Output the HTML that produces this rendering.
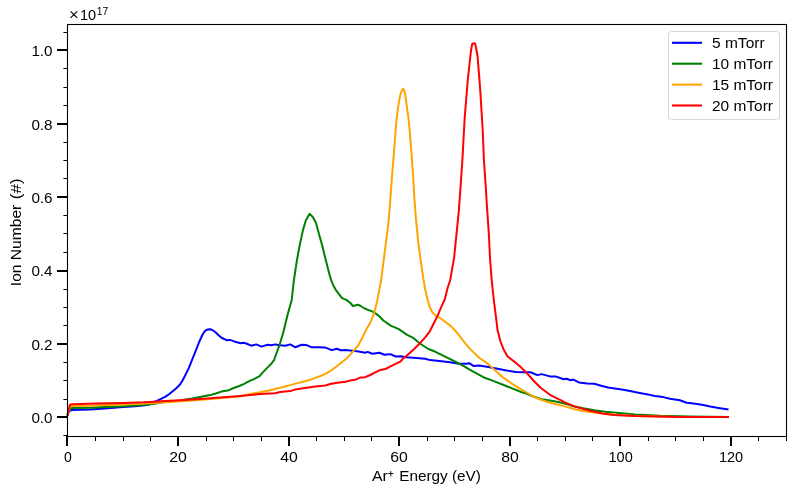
<!DOCTYPE html>
<html><head><meta charset="utf-8"><style>html,body{margin:0;padding:0;background:#fff;width:795px;height:493px;overflow:hidden} .t{font-family:"Liberation Sans",sans-serif}</style></head>
<body>
<svg width="795" height="493" viewBox="0 0 795 493" style="display:block;will-change:transform">
<rect width="795" height="493" fill="#fff"/>
<g fill="none" stroke-width="2.0" stroke-linejoin="round" stroke-linecap="butt">
<path d="M67.5 415.5 L68.5 412.5 L70.0 410.5 L72.0 410.1 L90.0 409.6 L105.0 408.5 L120.0 407.3 L135.0 406.2 L145.0 405.3 L150.0 404.3 L153.0 402.2 L156.9 400.9 L161.0 398.9 L165.5 396.6 L169.0 394.2 L172.4 391.4 L176.0 388.4 L179.3 385.3 L182.0 381.5 L184.5 376.7 L188.8 368.1 L192.2 359.5 L195.7 350.9 L199.1 342.2 L202.6 334.5 L204.5 331.6 L206.0 330.2 L207.8 329.5 L209.5 329.3 L211.5 329.6 L213.8 331.0 L215.8 332.5 L218.5 335.2 L221.3 337.6 L224.1 339.0 L226.8 340.2 L229.6 339.9 L232.4 340.6 L235.1 341.8 L237.9 342.5 L240.7 343.2 L243.4 342.8 L246.2 343.5 L251.3 345.7 L256.3 344.4 L261.4 346.6 L267.6 344.8 L271.4 345.3 L275.2 344.4 L280.2 345.3 L285.3 345.7 L290.3 344.4 L295.3 347.3 L301.6 344.8 L306.6 345.1 L311.7 347.3 L318.0 347.3 L325.5 347.6 L331.8 350.1 L336.8 348.8 L340.6 350.3 L345.7 350.1 L350.0 350.6 L355.1 351.1 L360.1 351.7 L365.2 352.7 L367.7 351.9 L372.3 353.7 L379.4 352.7 L384.4 354.7 L390.5 354.2 L395.6 356.5 L400.7 356.2 L406.0 357.2 L413.0 357.7 L425.2 358.7 L430.0 360.1 L439.1 361.0 L448.2 361.9 L457.4 363.4 L466.5 363.8 L469.2 363.2 L473.8 366.1 L479.3 365.6 L488.4 367.0 L497.5 368.7 L506.6 370.5 L515.8 372.0 L523.1 372.3 L530.5 372.3 L537.4 375.1 L541.6 374.1 L549.9 376.4 L555.4 376.4 L563.7 379.2 L566.5 378.8 L570.6 380.2 L573.4 379.6 L578.9 382.4 L587.2 383.4 L594.2 383.8 L601.1 385.7 L608.0 387.5 L614.9 388.6 L621.8 389.6 L628.7 390.7 L635.0 392.1 L638.3 392.7 L648.0 394.4 L654.9 396.0 L663.2 397.1 L670.1 398.8 L679.8 400.2 L686.7 402.7 L693.6 403.4 L701.9 404.7 L710.2 406.5 L718.5 407.9 L728.5 409.6" stroke="#0000ff"/>
<path d="M67.5 415.5 L68.5 411.5 L70.0 408.5 L72.0 408.0 L90.0 407.7 L105.0 406.9 L120.0 406.4 L143.5 405.1 L152.6 404.0 L165.0 402.0 L180.0 400.6 L192.1 398.6 L200.1 397.0 L210.2 395.1 L215.0 393.7 L221.5 391.6 L228.8 390.2 L233.7 388.0 L239.3 386.0 L244.2 383.9 L249.1 381.1 L253.9 379.1 L259.6 376.2 L262.8 372.4 L266.9 368.1 L271.8 363.2 L274.2 359.8 L275.5 356.0 L279.6 344.8 L283.6 331.2 L287.7 314.2 L291.7 300.0 L293.8 281.1 L296.8 260.9 L299.8 244.6 L302.9 230.4 L305.9 220.3 L309.6 213.8 L313.0 217.2 L316.1 223.3 L319.1 234.5 L322.2 245.6 L325.2 257.8 L328.2 269.5 L329.6 275.1 L331.2 280.1 L333.2 285.2 L335.7 289.8 L338.8 293.8 L341.8 297.9 L343.8 298.9 L346.4 299.9 L350.4 303.0 L353.0 306.0 L355.0 305.5 L358.0 304.7 L360.6 306.0 L364.6 308.5 L368.7 310.1 L372.7 311.6 L375.8 313.6 L379.8 316.7 L383.3 320.5 L390.7 325.6 L398.8 329.2 L407.1 334.8 L412.8 337.6 L419.9 343.5 L428.4 349.0 L435.5 351.8 L442.6 355.4 L449.7 358.9 L456.8 362.5 L463.9 366.1 L469.6 369.6 L475.6 372.9 L484.7 377.8 L493.9 381.1 L503.0 384.7 L512.1 388.4 L521.2 392.0 L525.0 393.0 L533.3 396.5 L541.6 399.3 L549.9 400.6 L558.2 402.0 L566.5 404.1 L574.8 406.5 L583.1 408.3 L594.2 410.3 L605.2 411.7 L616.3 412.8 L627.4 413.8 L635.0 414.4 L660.0 415.8 L690.0 416.6 L729.0 417.0" stroke="#008000"/>
<path d="M67.5 415.5 L68.5 411.0 L70.0 406.6 L72.0 406.1 L90.0 405.7 L105.0 405.0 L120.0 404.7 L143.5 403.6 L150.0 403.3 L177.7 401.6 L205.3 399.6 L233.0 397.0 L240.0 396.2 L250.0 393.9 L260.0 392.2 L270.1 390.3 L280.1 387.8 L290.2 385.1 L300.2 382.4 L305.1 381.3 L310.3 379.8 L315.3 377.9 L320.4 376.0 L325.4 373.9 L330.5 370.8 L335.5 367.3 L340.6 363.2 L345.7 359.2 L350.7 354.1 L355.0 349.2 L357.4 346.4 L360.5 341.3 L363.5 335.2 L366.5 329.1 L370.2 323.0 L374.3 312.6 L377.3 300.4 L380.2 285.2 L381.0 281.1 L383.6 260.9 L386.2 240.6 L388.7 220.3 L390.3 200.0 L391.9 177.6 L393.9 153.2 L395.6 130.0 L396.7 118.5 L398.2 106.4 L400.2 95.2 L401.8 90.5 L403.1 88.6 L404.2 90.5 L405.3 95.2 L406.8 106.4 L408.5 118.5 L409.6 130.0 L411.5 153.2 L413.2 177.6 L414.5 200.0 L416.1 220.3 L418.1 240.6 L420.7 260.9 L423.6 280.0 L425.3 289.7 L427.2 298.2 L429.6 306.8 L432.6 312.8 L436.3 315.9 L440.5 318.3 L445.4 322.0 L450.3 325.6 L455.1 330.5 L458.2 334.1 L462.5 339.8 L468.2 346.9 L473.9 352.6 L478.8 357.5 L486.6 362.8 L493.9 369.2 L503.0 377.4 L512.1 383.8 L521.2 389.3 L525.0 391.5 L533.3 396.5 L541.6 400.0 L549.9 402.7 L558.2 404.8 L566.5 406.9 L574.8 409.2 L583.1 411.0 L594.2 412.4 L605.2 413.8 L616.3 414.8 L627.4 415.5 L635.0 416.0 L680.0 416.9 L729.0 417.1" stroke="#ffa500"/>
<path d="M67.5 415.5 L68.5 410.0 L70.0 404.8 L72.0 404.2 L96.0 403.6 L124.0 402.9 L143.5 402.3 L150.0 401.9 L165.0 401.0 L180.0 400.3 L200.1 399.1 L220.2 397.6 L240.4 395.9 L260.0 394.1 L275.1 393.2 L280.1 392.1 L290.2 391.1 L295.0 389.6 L305.1 388.1 L315.3 386.5 L325.4 385.5 L330.5 384.0 L335.5 383.0 L345.7 381.8 L350.0 380.6 L355.1 379.8 L360.1 377.6 L365.2 377.2 L370.3 375.0 L375.3 372.4 L380.4 369.9 L385.5 369.0 L390.5 366.3 L395.6 363.8 L400.7 361.3 L402.7 358.8 L406.7 355.7 L410.0 352.7 L414.2 349.0 L419.9 343.3 L425.6 336.9 L429.8 331.3 L434.1 322.7 L437.6 315.6 L441.2 307.1 L444.7 299.5 L447.8 287.3 L450.2 280.2 L454.1 257.6 L456.6 233.2 L459.0 208.8 L460.7 184.4 L462.4 160.0 L464.6 119.0 L467.8 79.5 L469.6 63.0 L471.0 50.5 L472.2 44.0 L473.5 43.3 L475.1 43.5 L476.3 49.0 L477.5 55.8 L478.1 63.0 L479.3 77.6 L480.4 92.6 L482.8 132.0 L483.9 160.0 L485.6 184.4 L487.1 208.8 L488.8 233.2 L490.0 257.6 L491.7 280.2 L493.9 300.9 L496.5 321.1 L497.5 330.0 L500.3 341.0 L503.9 350.1 L507.6 356.5 L515.3 362.4 L521.3 367.6 L527.4 373.7 L533.4 380.5 L540.9 388.0 L550.0 394.8 L557.5 398.6 L566.6 403.1 L575.7 406.9 L590.0 410.7 L602.5 413.5 L613.5 414.9 L624.6 415.6 L635.0 416.1 L680.0 416.9 L729.0 417.1" stroke="#ff0000"/>
</g>
<rect x="67.5" y="24.5" width="719" height="412" fill="none" stroke="#000" stroke-width="1.1"/>
<g fill="#000">
<rect x="66" y="436" width="2" height="10"/>
<rect x="95" y="436" width="1" height="5"/>
<rect x="123" y="436" width="1" height="5"/>
<rect x="150" y="436" width="1" height="5"/>
<rect x="177" y="436" width="2" height="10"/>
<rect x="206" y="436" width="1" height="5"/>
<rect x="233" y="436" width="1" height="5"/>
<rect x="261" y="436" width="1" height="5"/>
<rect x="288" y="436" width="2" height="10"/>
<rect x="316" y="436" width="1" height="5"/>
<rect x="344" y="436" width="1" height="5"/>
<rect x="371" y="436" width="1" height="5"/>
<rect x="398" y="436" width="2" height="10"/>
<rect x="427" y="436" width="1" height="5"/>
<rect x="454" y="436" width="1" height="5"/>
<rect x="482" y="436" width="1" height="5"/>
<rect x="509" y="436" width="2" height="10"/>
<rect x="537" y="436" width="1" height="5"/>
<rect x="565" y="436" width="1" height="5"/>
<rect x="592" y="436" width="1" height="5"/>
<rect x="619" y="436" width="2" height="10"/>
<rect x="648" y="436" width="1" height="5"/>
<rect x="675" y="436" width="1" height="5"/>
<rect x="703" y="436" width="1" height="5"/>
<rect x="730" y="436" width="2" height="10"/>
<rect x="758" y="436" width="1" height="5"/>
<rect x="786" y="436" width="1" height="5"/>
<rect x="63.4" y="435" width="3.6" height="1"/>
<rect x="57" y="416" width="10" height="2"/>
<rect x="63.4" y="399" width="3.6" height="1"/>
<rect x="63.4" y="380" width="3.6" height="1"/>
<rect x="63.4" y="362" width="3.6" height="1"/>
<rect x="57" y="343" width="10" height="2"/>
<rect x="63.4" y="325" width="3.6" height="1"/>
<rect x="63.4" y="307" width="3.6" height="1"/>
<rect x="63.4" y="289" width="3.6" height="1"/>
<rect x="57" y="270" width="10" height="2"/>
<rect x="63.4" y="252" width="3.6" height="1"/>
<rect x="63.4" y="233" width="3.6" height="1"/>
<rect x="63.4" y="215" width="3.6" height="1"/>
<rect x="57" y="196" width="10" height="2"/>
<rect x="63.4" y="178" width="3.6" height="1"/>
<rect x="63.4" y="160" width="3.6" height="1"/>
<rect x="63.4" y="142" width="3.6" height="1"/>
<rect x="57" y="123" width="10" height="2"/>
<rect x="63.4" y="105" width="3.6" height="1"/>
<rect x="63.4" y="87" width="3.6" height="1"/>
<rect x="63.4" y="68" width="3.6" height="1"/>
<rect x="57" y="49" width="10" height="2"/>
<rect x="63.4" y="32" width="3.6" height="1"/>
</g>
<g class="t" font-size="14" fill="#000">
<text x="67.8" y="461.8" text-anchor="middle" textLength="7.8" lengthAdjust="spacingAndGlyphs">0</text>
<text x="178" y="461.8" text-anchor="middle" textLength="17.6" lengthAdjust="spacingAndGlyphs">20</text>
<text x="289" y="461.8" text-anchor="middle" textLength="17.6" lengthAdjust="spacingAndGlyphs">40</text>
<text x="399" y="461.8" text-anchor="middle" textLength="17.6" lengthAdjust="spacingAndGlyphs">60</text>
<text x="510" y="461.8" text-anchor="middle" textLength="17.6" lengthAdjust="spacingAndGlyphs">80</text>
<text x="620.6" y="461.8" text-anchor="middle" textLength="24.2" lengthAdjust="spacingAndGlyphs">100</text>
<text x="731" y="461.8" text-anchor="middle" textLength="24.2" lengthAdjust="spacingAndGlyphs">120</text>
<text x="52.6" y="423" text-anchor="end" textLength="21.2" lengthAdjust="spacingAndGlyphs">0.0</text>
<text x="52.6" y="350" text-anchor="end" textLength="21.2" lengthAdjust="spacingAndGlyphs">0.2</text>
<text x="52.6" y="276" text-anchor="end" textLength="21.2" lengthAdjust="spacingAndGlyphs">0.4</text>
<text x="52.6" y="203" text-anchor="end" textLength="21.2" lengthAdjust="spacingAndGlyphs">0.6</text>
<text x="52.6" y="130" text-anchor="end" textLength="21.2" lengthAdjust="spacingAndGlyphs">0.8</text>
<text x="52.6" y="56" text-anchor="end" textLength="21.2" lengthAdjust="spacingAndGlyphs">1.0</text>
<text x="372.0" y="481.2" textLength="15.8" lengthAdjust="spacingAndGlyphs">Ar</text>
<path d="M388.1 473.6 H393.5 M390.8 470.9 V476.3" stroke="#000" stroke-width="0.9" fill="none"/>
<text x="399.3" y="481.2" textLength="81.6" lengthAdjust="spacingAndGlyphs">Energy (eV)</text>
<text transform="translate(20.9,285) rotate(-90)" x="-1.2" y="0" textLength="81.5" lengthAdjust="spacingAndGlyphs">Ion Number</text>
<text transform="translate(20.9,285) rotate(-90)" x="85.8" y="0" textLength="20.8" lengthAdjust="spacingAndGlyphs">(#)</text>
<path d="M70.6 11.4 L77.2 17.9 M77.2 11.4 L70.6 17.9" stroke="#000" stroke-width="1.2" fill="none"/>
<text x="80" y="19.7" textLength="16.2" lengthAdjust="spacingAndGlyphs">10</text>
<text x="96.8" y="14.5" font-size="10" textLength="11.5" lengthAdjust="spacingAndGlyphs">17</text>
</g>
<rect x="668.5" y="31.5" width="111" height="88" rx="3" fill="#fff" fill-opacity="0.8" stroke="#d6d6d6" stroke-width="1"/>
<g stroke-width="2.1">
<line x1="672" y1="42.8" x2="702" y2="42.8" stroke="#0000ff"/>
<line x1="672" y1="63.7" x2="702" y2="63.7" stroke="#008000"/>
<line x1="672" y1="84.6" x2="702" y2="84.6" stroke="#ffa500"/>
<line x1="672" y1="105.5" x2="702" y2="105.5" stroke="#ff0000"/>
</g>
<g class="t" font-size="14" fill="#000">
<text x="712.0" y="47.9" textLength="52.6" lengthAdjust="spacingAndGlyphs">5 mTorr</text>
<text x="712.0" y="68.8" textLength="61" lengthAdjust="spacingAndGlyphs">10 mTorr</text>
<text x="712.0" y="89.7" textLength="61" lengthAdjust="spacingAndGlyphs">15 mTorr</text>
<text x="712.0" y="110.6" textLength="61" lengthAdjust="spacingAndGlyphs">20 mTorr</text>
</g>
</svg>
</body></html>
